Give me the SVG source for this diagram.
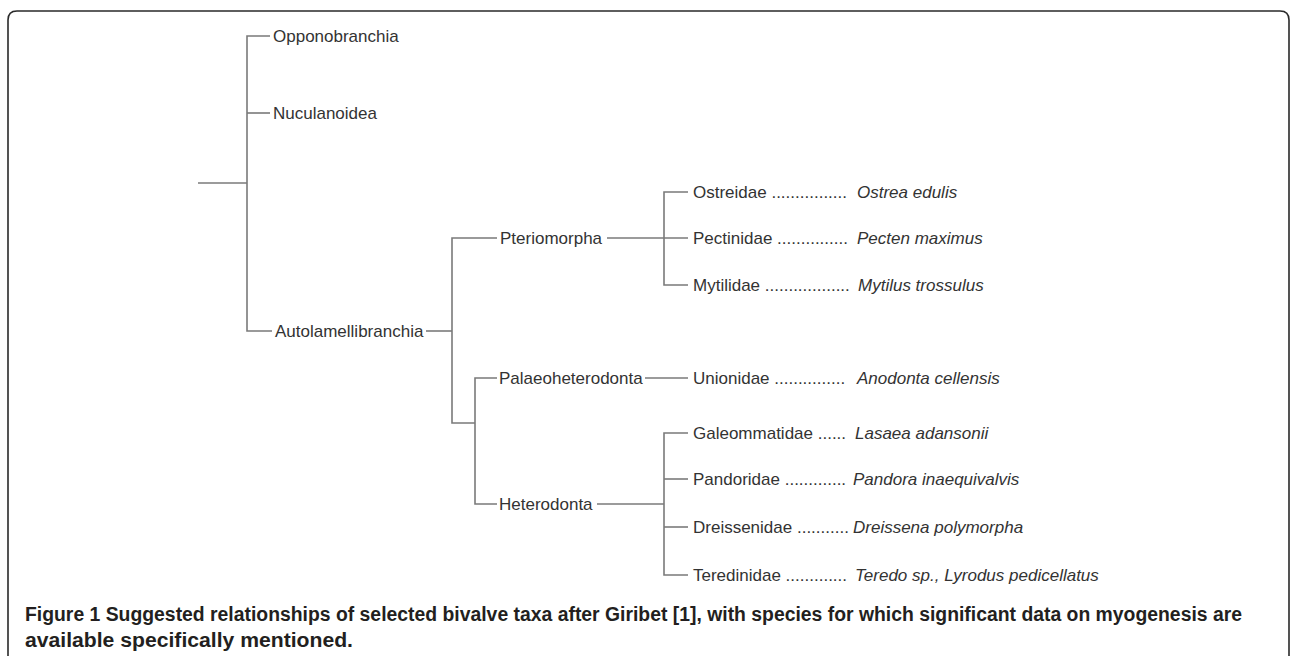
<svg xmlns="http://www.w3.org/2000/svg" width="1290" height="656" viewBox="0 0 1290 656">
<style>
.t{font-family:"Liberation Sans",Arial,sans-serif;font-size:17px;fill:#333}
.i{font-style:italic}
.c{fill:none;stroke:#7a7a7a;stroke-width:1.6}
.cap{font-family:"Liberation Sans",Arial,sans-serif;font-size:20px;font-weight:bold;fill:#231f20}
</style>
<rect width="1290" height="656" fill="#fff"/>
<path d="M8,656 V20 Q8,11 17,11 H1280 Q1289,11 1289,20 V656" fill="none" stroke="#2a2a2a" stroke-width="1.6"/>
<g id="connectors" class="c">
<path d="M198,183 H247"/>
<path d="M270,36 H247 V331 H272"/>
<path d="M247,113 H270"/>
<path d="M426,331 H452"/>
<path d="M497,238 H452 V423 H475"/>
<path d="M497,378 H475 V504 H497"/>
<path d="M607,238 H688"/>
<path d="M688,192 H664 V285 H688"/>
<path d="M645,378 H688"/>
<path d="M597,504 H664"/>
<path d="M688,433 H664 V575 H688"/>
<path d="M664,479 H688"/>
<path d="M664,527 H688"/>
</g>
<g id="opponobranchia"><text class="t" x="273" y="42">Opponobranchia</text></g>
<g id="nuculanoidea"><text class="t" x="273" y="119">Nuculanoidea</text></g>
<g id="autolamellibranchia"><text class="t" x="275" y="337">Autolamellibranchia</text></g>
<g id="pteriomorpha"><text class="t" x="500" y="244">Pteriomorpha</text></g>
<g id="palaeoheterodonta"><text class="t" x="499" y="384">Palaeoheterodonta</text></g>
<g id="heterodonta"><text class="t" x="499" y="510">Heterodonta</text></g>
<g id="ostreidae"><text class="t" x="693" y="198">Ostreidae ................ <tspan class="i" x="857">Ostrea edulis</tspan></text></g>
<g id="pectinidae"><text class="t" x="693" y="244">Pectinidae ............... <tspan class="i" x="857">Pecten maximus</tspan></text></g>
<g id="mytilidae"><text class="t" x="693" y="291">Mytilidae .................. <tspan class="i" x="858">Mytilus trossulus</tspan></text></g>
<g id="unionidae"><text class="t" x="693" y="384">Unionidae ............... <tspan class="i" x="857">Anodonta cellensis</tspan></text></g>
<g id="galeommatidae"><text class="t" x="693" y="439">Galeommatidae ...... <tspan class="i" x="855">Lasaea adansonii</tspan></text></g>
<g id="pandoridae"><text class="t" x="693" y="485">Pandoridae ............. <tspan class="i" x="853">Pandora inaequivalvis</tspan></text></g>
<g id="dreissenidae"><text class="t" x="693" y="533">Dreissenidae ........... <tspan class="i" x="853">Dreissena polymorpha</tspan></text></g>
<g id="teredinidae"><text class="t" x="693" y="581">Teredinidae ............. <tspan class="i" x="855">Teredo sp., Lyrodus pedicellatus</tspan></text></g>
<g id="caption">
<text class="cap" x="25" y="621" textLength="1217" lengthAdjust="spacingAndGlyphs">Figure 1 Suggested relationships of selected bivalve taxa after Giribet [1], with species for which significant data on myogenesis are</text>
<text class="cap" x="25" y="647" textLength="328" lengthAdjust="spacingAndGlyphs">available specifically mentioned.</text>
</g>
</svg>
